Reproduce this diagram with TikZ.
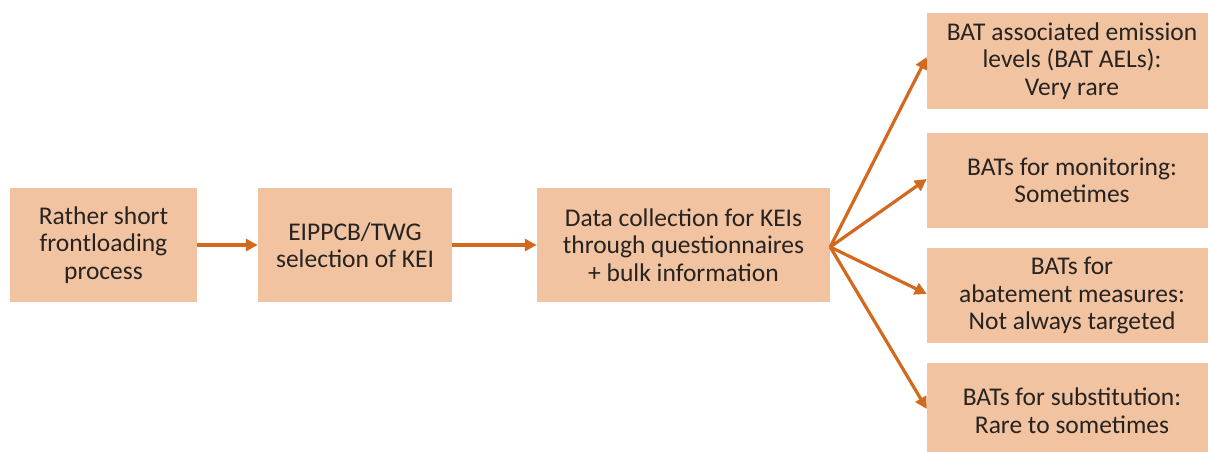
\documentclass[tikz,border=0pt]{standalone}
\usepackage{fontspec}
\setmainfont{Carlito}
\usetikzlibrary{arrows.meta,calc}
\definecolor{boxfill}{HTML}{F2C3A0}
\definecolor{arrowc}{HTML}{D2691E}
\definecolor{txt}{HTML}{262321}
\tikzset{
  stepbox/.style={rectangle, fill=boxfill, draw=none, align=center,
    text=txt, font=\fontsize{25.5}{27.5}\selectfont, inner sep=0pt},
  flow/.style={draw=arrowc, line width=3.2pt,
    -{Triangle[length=12pt,width=12pt]}}
}
\begin{document}
\begin{tikzpicture}[x=1pt,y=-1pt]
\useasboundingbox (0,0) rectangle (1208,452);
\node[stepbox, minimum width=187pt, minimum height=114pt] (front) at (103.5,245)
  {Rather short\\frontloading\\process};
\node[stepbox, minimum width=194pt, minimum height=114pt] (sel) at (355,245)
  {EIPPCB/TWG\\selection of KEI};
\node[stepbox, minimum width=293pt, minimum height=114pt] (data) at (683.5,245)
  {Data collection for KEIs\\through questionnaires\\+ bulk information};
\node[stepbox, minimum width=290pt, minimum height=96pt] (aels) at (1072,61)
  {BAT associated emission\\levels (BAT AELs):\\Very rare};
\node[stepbox, minimum width=290pt, minimum height=95pt] (mon) at (1072,180.5)
  {BATs for monitoring:\\Sometimes};
\node[stepbox, minimum width=290pt, minimum height=95pt] (abat) at (1072,295.5)
  {BATs for\\abatement measures:\\Not always targeted};
\node[stepbox, minimum width=290pt, minimum height=95pt] (subst) at (1072,410.5)
  {BATs for substitution:\\Rare to sometimes};
\coordinate (fan) at ($(data.east)+(0,2)$);
\draw[flow] (front.east) -- (sel.west);
\draw[flow] (sel.east) -- (data.west);
\draw[flow] (fan) -- ([yshift=4pt]aels.west);
\draw[flow] (fan) -- ([yshift=1.5pt]mon.west);
\draw[flow] (fan) -- ([yshift=1.5pt]abat.west);
\draw[flow] (fan) -- ([yshift=1.5pt]subst.west);
\end{tikzpicture}
\end{document}
